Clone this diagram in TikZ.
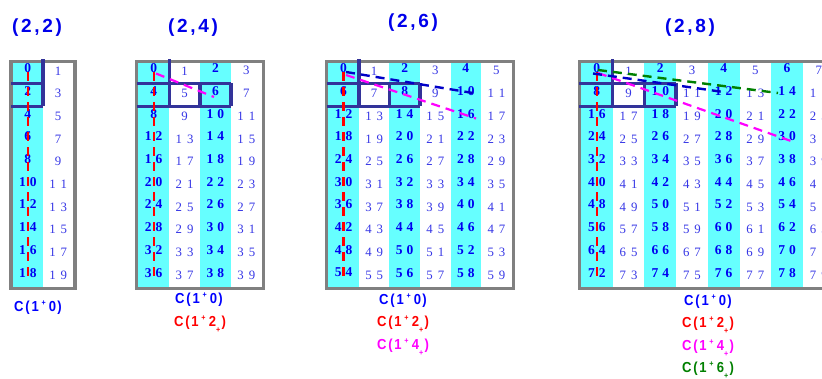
\documentclass[tikz,border=0pt]{standalone}
\usepackage{fontspec}
\setmainfont{Liberation Serif}
\newfontfamily\labfont{Liberation Sans}
\definecolor{cellcyan}{RGB}{102,255,255}
\definecolor{framegray}{RGB}{128,128,128}
\definecolor{boxnavy}{RGB}{51,51,153}
\definecolor{evenblue}{RGB}{0,0,240}
\definecolor{oddblue}{RGB}{55,55,230}
\definecolor{titleblue}{RGB}{0,0,235}
\definecolor{dgreen}{RGB}{0,128,0}
\definecolor{dblue}{RGB}{0,0,200}
\definecolor{mag}{RGB}{255,0,255}
\definecolor{labred}{RGB}{255,0,0}
\definecolor{labblue}{RGB}{0,0,255}
\newcommand\evensize{\fontsize{13.5}{13.5}\selectfont}
\newcommand\oddsize{\fontsize{12.8}{12.8}\selectfont}
\newcommand\supplus{\raisebox{0.42em}{\fontsize{8}{8}\selectfont +}}
\newcommand\subplus{\raisebox{-0.38em}{\fontsize{8}{8}\selectfont +}}
\newcommand\ttl[2]{(\kern2.7pt#1\kern2.7pt,\kern2.7pt#2\kern2.7pt)}
\newcommand\lab[2]{\scalebox{0.9}[1]{C\kern2pt(\kern2pt1\kern3pt\supplus\kern3.5pt#1#2\kern1.5pt)}}
\newcommand\drawpanel[5]{%
  \pgfmathtruncatemacro\lastcol{#4-1}%
  \pgfmathtruncatemacro\lastn{9*#4}%
  \pgfmathsetmacro\pright{#2+#4*#3}%
  \foreach \c in {0,...,\lastcol}{%
    \ifodd\c\relax\else
      \fill[cellcyan] ({#2+\c*#3},63) rectangle ({#2+(\c+1)*#3},287);
    \fi
  }%
  \foreach \r in {0,...,9}{%
    \foreach \c in {0,...,\lastcol}{%
      \pgfmathtruncatemacro\n{\r*#4+\c}%
      \ifodd\c\relax
        \def\nfont{\oddsize}\def\ncol{oddblue}\def\dy{2.5}\def\kk{5pt}%
      \else
        \def\nfont{\evensize\bfseries}\def\ncol{evenblue}\def\dy{0}\def\kk{4pt}%
      \fi
      \ifnum\n<10 \edef\txt{\n}\else
        \pgfmathtruncatemacro\ta{div(\n,10)}%
        \pgfmathtruncatemacro\tb{mod(\n,10)}%
        \edef\txt{\ta\noexpand\kern\kk\tb}\fi
      \node[numbase, font=\nfont, text=\ncol] (#1-\n) at ({#2+(\c+0.5)*#3},{68.3+22.7*\r+\dy}) {\txt};
    }%
  }%
  \draw[frameline] ({#2-1.7},61.3) rectangle ({\pright+1.7},288.3);
  \draw[boxline] ({#2+#3},59.5) -- ({#2+#3},106.5);
  \draw[boxline] ({#2-1.7},83.5) -- ({#2+#5*#3},83.5);
  \draw[boxline] ({#2-1.7},106.5) -- ({#2+#5*#3},106.5);
  \ifnum#5>1 \foreach \k in {2,...,#5}{\draw[boxline] ({#2+\k*#3},83.5) -- ({#2+\k*#3},106.5);}\fi
  \draw[reddash] ([yshift=-4pt]#1-0.center) -- ([yshift=-4pt]#1-\lastn.center);
}
\begin{document}
\begin{tikzpicture}[x=1pt,y=-1pt,
  numbase/.style={inner sep=0pt, anchor=center},
  titlestyle/.style={font=\labfont\fontsize{19}{19}\selectfont\bfseries, text=titleblue, inner sep=0pt},
  labstyle/.style={font=\labfont\fontsize{14.5}{14.5}\selectfont\bfseries, inner sep=0pt},
  boxline/.style={draw=boxnavy, line width=3.3pt},
  frameline/.style={draw=framegray, line width=3.5pt},
  reddash/.style={draw=labred, line width=2.2pt, dash pattern=on 9pt off 6pt},
  magdash/.style={draw=mag, line width=2.2pt, dash pattern=on 9pt off 6pt},
  bluedash/.style={draw=dblue, line width=2.4pt, dash pattern=on 9pt off 6pt},
  greendash/.style={draw=dgreen, line width=2.4pt, dash pattern=on 9pt off 6pt}]
\useasboundingbox (0,0) rectangle (822,379);
\fill[white] (0,0) rectangle (822,379);
\clip (0,0) rectangle (822,379);
% titles
\node[titlestyle] (t1) at (37,28) {\ttl{2}{2}};
\node[titlestyle] (t2) at (193,28) {\ttl{2}{4}};
\node[titlestyle] (t3) at (413,23) {\ttl{2}{6}};
\node[titlestyle] (t4) at (690,28) {\ttl{2}{8}};
% panels
\drawpanel{p1}{12.7}{30.3}{2}{1}
\drawpanel{p2}{138.3}{30.85}{4}{3}
\drawpanel{p3}{328.3}{30.57}{6}{3}
\drawpanel{p4}{581}{31.7}{8}{3}
% dashed connectors
\coordinate (p2-ms) at (156,73.5);
\coordinate (p2-me) at (214,97);
\draw[magdash] (p2-ms) -- (p2-me);
\coordinate (p3-ms) at (346,75);
\coordinate (p3-me) at (476,118.5);
\coordinate (p3-bs) at (346,72);
\coordinate (p3-be) at (476,93.5);
\draw[magdash] (p3-ms) -- (p3-me);
\draw[bluedash] (p3-bs) -- (p3-be);
\coordinate (p4-ms) at (598,73);
\coordinate (p4-me) at (791,141);
\coordinate (p4-bs) at (593,73.5);
\coordinate (p4-be) at (727,92.5);
\coordinate (p4-gs) at (598,70);
\coordinate (p4-ge) at (778,93);
\draw[magdash] (p4-ms) -- (p4-me);
\draw[bluedash] (p4-bs) -- (p4-be);
\draw[greendash] (p4-gs) -- (p4-ge);
% labels
\node[labstyle, text=labblue] (l1a) at (38,308) {\lab{0}{}};
\node[labstyle, text=labblue] (l2a) at (199,300) {\lab{0}{}};
\node[labstyle, text=labred] (l2b) at (200,324) {\lab{2}{\subplus}};
\node[labstyle, text=labblue] (l3a) at (403,301) {\lab{0}{}};
\node[labstyle, text=labred] (l3b) at (403,324) {\lab{2}{\subplus}};
\node[labstyle, text=mag] (l3c) at (403,347) {\lab{4}{\subplus}};
\node[labstyle, text=labblue] (l4a) at (708,302) {\lab{0}{}};
\node[labstyle, text=labred] (l4b) at (708,325) {\lab{2}{\subplus}};
\node[labstyle, text=mag] (l4c) at (708,348) {\lab{4}{\subplus}};
\node[labstyle, text=dgreen] (l4d) at (708,370) {\lab{6}{\subplus}};
\end{tikzpicture}
\end{document}
